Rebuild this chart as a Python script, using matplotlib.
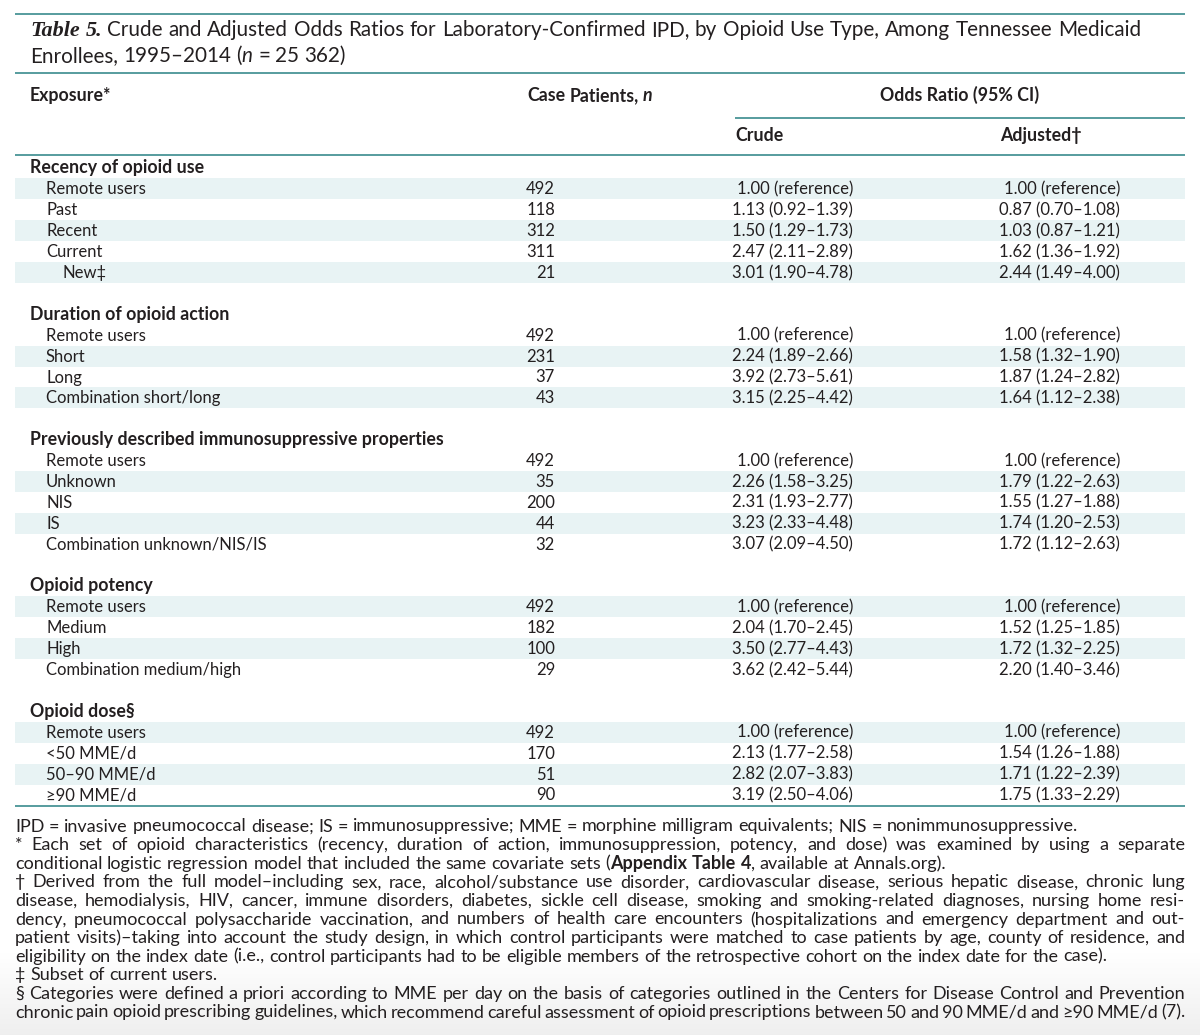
import matplotlib
matplotlib.use("Agg")
import matplotlib.pyplot as plt
from matplotlib.font_manager import FontProperties
from matplotlib.patches import Rectangle
import numpy as np

# ---------------- data ----------------
section_titles = ["Recency of opioid use", "Duration of opioid action",
                  "Previously described immunosuppressive properties",
                  "Opioid potency", "Opioid dose§"]
section_sizes = [5, 4, 5, 4, 4]

row_labels = ["Remote users", "Past", "Recent", "Current", "New‡",
              "Remote users", "Short", "Long", "Combination short/long",
              "Remote users", "Unknown", "NIS", "IS", "Combination unknown/NIS/IS",
              "Remote users", "Medium", "High", "Combination medium/high",
              "Remote users", "<50 MME/d", "50–90 MME/d", "≥90 MME/d"]
case_n = [492, 118, 312, 311, 21,
          492, 231, 37, 43,
          492, 35, 200, 44, 32,
          492, 182, 100, 29,
          492, 170, 51, 90]
crude_or = ["1.00 (reference)", "1.13 (0.92–1.39)", "1.50 (1.29–1.73)", "2.47 (2.11–2.89)", "3.01 (1.90–4.78)",
            "1.00 (reference)", "2.24 (1.89–2.66)", "3.92 (2.73–5.61)", "3.15 (2.25–4.42)",
            "1.00 (reference)", "2.26 (1.58–3.25)", "2.31 (1.93–2.77)", "3.23 (2.33–4.48)", "3.07 (2.09–4.50)",
            "1.00 (reference)", "2.04 (1.70–2.45)", "3.50 (2.77–4.43)", "3.62 (2.42–5.44)",
            "1.00 (reference)", "2.13 (1.77–2.58)", "2.82 (2.07–3.83)", "3.19 (2.50–4.06)"]
adjusted_or = ["1.00 (reference)", "0.87 (0.70–1.08)", "1.03 (0.87–1.21)", "1.62 (1.36–1.92)", "2.44 (1.49–4.00)",
               "1.00 (reference)", "1.58 (1.32–1.90)", "1.87 (1.24–2.82)", "1.64 (1.12–2.38)",
               "1.00 (reference)", "1.79 (1.22–2.63)", "1.55 (1.27–1.88)", "1.74 (1.20–2.53)", "1.72 (1.12–2.63)",
               "1.00 (reference)", "1.52 (1.25–1.85)", "1.72 (1.32–2.25)", "2.20 (1.40–3.46)",
               "1.00 (reference)", "1.54 (1.26–1.88)", "1.71 (1.22–2.39)", "1.75 (1.33–2.29)"]
sub_indented = ["New‡"]

# ---------------- style ----------------
TXT = "#231f20"
LINE = "#3a8b8e"
SHADE = "#e8f3f4"
FAM = ["Lato", "DejaVu Sans"]
SERIF = ["Liberation Serif", "DejaVu Serif"]

def fp(size, weight="normal", style="normal", family=FAM):
    return FontProperties(family=family, size=size, weight=weight, style=style)

fig = plt.figure(figsize=(12, 10.35), dpi=100)
ax = fig.add_axes([0, 0, 1, 1])
ax.set_xlim(0, 1200)
ax.set_ylim(1035, 0)
ax.axis("off")
renderer = fig.canvas.get_renderer()

def width(s, prop):
    t = ax.text(0, 0, s, fontproperties=prop)
    w = t.get_window_extent(renderer).width
    t.remove()
    return w

def space_w(prop):
    return width("a a", prop) - width("aa", prop)

def words_from_runs(runs):
    words = [[]]
    for text, f in runs:
        parts = text.split(" ")
        for i, p in enumerate(parts):
            if i > 0:
                words.append([])
            if p:
                words[-1].append((p, f))
    return [w for w in words if w]

def draw_runs(x0, y, runs, x1=None, color=TXT):
    words = words_from_runs(runs)
    widths = [sum(width(p, f) for p, f in w) for w in words]
    if x1 is None or len(words) < 2:
        gap = space_w(runs[0][1])
    else:
        gap = (x1 - x0 - sum(widths)) / (len(words) - 1)
    x = x0
    for w, ww in zip(words, widths):
        xx = x
        for p, f in w:
            ax.text(xx, y, p, fontproperties=f, va="baseline", ha="left", color=color)
            xx += width(p, f)
        x += ww + gap

L, R = 15, 1185

# bottom screenshot gradient
for i in range(60):
    y0 = 950 + i * 85 / 60
    g = 1.0 - 0.065 * (i / 59)
    ax.add_patch(Rectangle((0, y0), 1200, 85 / 60 + 0.6, color=(g, g, g), lw=0, zorder=0))

# ---------------- title ----------------
title_size = 14.9
ttl = fp(title_size)
draw_runs(30, 36, [("Table 5.", fp(title_size + 1, "bold", "italic", SERIF)),
                   (" Crude and Adjusted Odds Ratios for Laboratory-Confirmed IPD, by Opioid Use Type, Among Tennessee Medicaid", ttl)])
draw_runs(30, 62, [("Enrollees, 1995–2014 (", ttl), ("n", fp(title_size, style="italic")),
                   (" = 25 362)", ttl)])

for yl in (14, 73, 155, 806):
    ax.plot([L, R], [yl, yl], color=LINE, lw=1.2, solid_capstyle="butt", zorder=3)
ax.plot([735, R], [118, 118], color=LINE, lw=1.2, solid_capstyle="butt", zorder=3)

# ---------------- header ----------------
hb = fp(12.8, "bold")
ax.text(30, 101, "Exposure*", fontproperties=hb, color=TXT, va="baseline")
draw_runs(527, 101, [("Case Patients, ", hb), ("n", fp(12.8, "bold", "italic"))])
ax.text(880, 101, "Odds Ratio (95% CI)", fontproperties=hb, color=TXT, va="baseline")
ax.text(735, 141, "Crude", fontproperties=hb, color=TXT, va="baseline")
ax.text(1000, 141, "Adjusted†", fontproperties=hb, color=TXT, va="baseline")

# ---------------- body ----------------
y_start, step = 168, 20.9
body = fp(12)
idx = 0
k = 0
for s, (title, n) in enumerate(zip(section_titles, section_sizes)):
    yc = y_start + idx * step
    ax.text(30, yc + 5.5, title, fontproperties=hb, color=TXT, va="baseline")
    idx += 1
    for j in range(n):
        yc = y_start + idx * step
        if idx % 2 == 1:
            ax.add_patch(Rectangle((L, yc - step / 2), R - L, step, color=SHADE, lw=0, zorder=0))
        lab = row_labels[k]
        xlab = 62 if lab in sub_indented else 46
        ax.text(xlab, yc + 5.5, lab, fontproperties=body, color=TXT, va="baseline")
        ax.text(555, yc + 5.5, str(case_n[k]), fontproperties=body, color=TXT, va="baseline", ha="right")
        ax.text(853, yc + 5.5, crude_or[k], fontproperties=body, color=TXT, va="baseline", ha="right")
        ax.text(1120, yc + 5.5, adjusted_or[k], fontproperties=body, color=TXT, va="baseline", ha="right")
        idx += 1
        k += 1
    idx += 1  # blank row

# ---------------- footnotes ----------------
fsz = 12.95
fn = fp(fsz)
fnb = fp(fsz, "bold")
foot = [
    ([("IPD = invasive pneumococcal disease; IS = immunosuppressive; MME = morphine milligram equivalents; NIS = nonimmunosuppressive.", fn)], False),
    ([("* Each set of opioid characteristics (recency, duration of action, immunosuppression, potency, and dose) was examined by using a separate", fn)], True),
    ([("conditional logistic regression model that included the same covariate sets (", fn), ("Appendix Table 4", fnb),
      (", available at Annals.org).", fn)], False),
    ([("† Derived from the full model–including sex, race, alcohol/substance use disorder, cardiovascular disease, serious hepatic disease, chronic lung", fn)], True),
    ([("disease, hemodialysis, HIV, cancer, immune disorders, diabetes, sickle cell disease, smoking and smoking-related diagnoses, nursing home resi-", fn)], True),
    ([("dency, pneumococcal polysaccharide vaccination, and numbers of health care encounters (hospitalizations and emergency department and out-", fn)], True),
    ([("patient visits)–taking into account the study design, in which control participants were matched to case patients by age, county of residence, and", fn)], True),
    ([("eligibility on the index date (i.e., control participants had to be eligible members of the retrospective cohort on the index date for the case).", fn)], False),
    ([("‡ Subset of current users.", fn)], False),
    ([("§ Categories were defined a priori according to MME per day on the basis of categories outlined in the Centers for Disease Control and Prevention", fn)], True),
    ([("chronic pain opioid prescribing guidelines, which recommend careful assessment of opioid prescriptions between 50 and 90 MME/d and ≥90 MME/d (7).", fn)], True),
]
fy0, fstep = 826, 18.6
for i, (runs, just) in enumerate(foot):
    draw_runs(L, fy0 + i * fstep + 5.5, runs, x1=R if just else None)

fig.savefig("out.png", dpi=100, facecolor="white")
